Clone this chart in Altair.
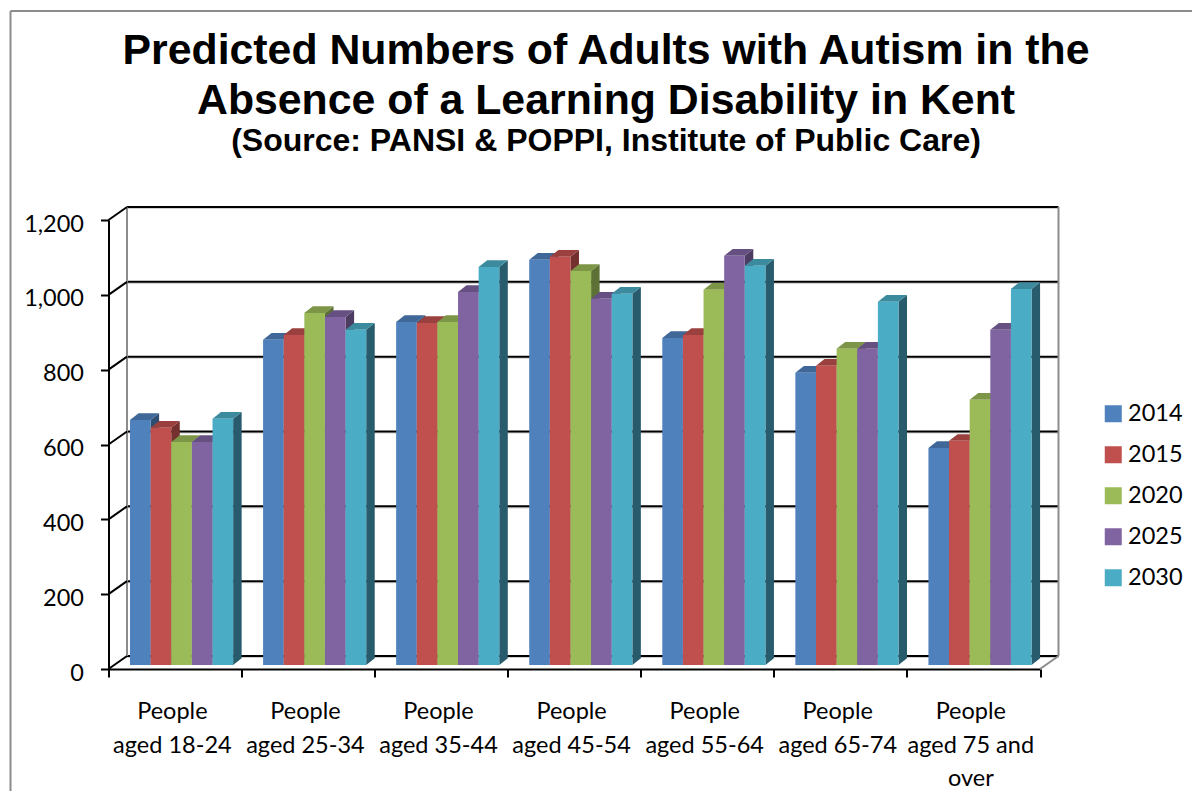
import altair as alt
import pandas as pd

ages = [["People", "aged 18-24"], ["People", "aged 25-34"], ["People", "aged 35-44"],
        ["People", "aged 45-54"], ["People", "aged 55-64"], ["People", "aged 65-74"],
        ["People", "aged 75 and", "over"]]
years = ["2014", "2015", "2020", "2025", "2030"]
v2014 = [655, 869, 917, 1083, 874, 781, 580]
v2015 = [634, 882, 914, 1091, 882, 800, 599]
v2020 = [596, 941, 917, 1053, 1003, 845, 709]
v2025 = [596, 930, 997, 979, 1094, 845, 896]
v2030 = [658, 896, 1064, 992, 1067, 971, 1005]
series = [v2014, v2015, v2020, v2025, v2030]
front_col = ["#4F81BD", "#C0504D", "#9BBB59", "#8064A2", "#4BACC6"]
top_col = ["#3F6797", "#9A403E", "#7C9547", "#665082", "#3C8A9E"]
side_col = ["#2F4D71", "#73302E", "#5D7035", "#4D3C61", "#285C6D"]
ticks = [0, 200, 400, 600, 800, 1000, 1200]
title_lines = ["Predicted Numbers of Adults with Autism in the",
               "Absence of a Learning Disability in Kent"]
subtitle = "(Source: PANSI & POPPI, Institute of Public Care)"

# 3-D projection, in data units
WALL_X, WALL_Y = 0.139, 34.7      # depth of the chart box
BAR_DX, BAR_DY = 0.064, 18.0      # depth of a bar
BASE = 10.7                       # bars stand a little behind the front edge
START, BW = 0.1616, 0.155         # first bar inset, bar width

GRAY = "#8c8c8c"
FONT = "Lato"
TITLE_FONT = "Liberation Sans"
sx = alt.Scale(domain=[0, 7], nice=False, zero=False)
sy = alt.Scale(domain=[0, 1200], nice=False, zero=False)
x_axis = alt.Axis(values=list(range(8)), labels=False, grid=False, domainColor="black",
                  domainWidth=2, tickColor="black", tickWidth=2, tickSize=8, title=None)
y_axis = alt.Axis(values=ticks, format=",.0f", grid=False, domainColor="black", domainWidth=2,
                  tickColor="black", tickWidth=2, tickSize=8, labelFont=FONT,
                  labelFontSize=23.5, labelColor="black", labelPadding=17, labelOffset=4, title=None)
X = lambda f="x": alt.X(f"{f}:Q", scale=sx, axis=x_axis)
Y = lambda f="y": alt.Y(f"{f}:Q", scale=sy, axis=y_axis)

layers = []

# back wall: grid lines, shadows, wall edges
grid_df = pd.DataFrame({"t": ticks})
grid_df["y"] = grid_df.t + WALL_Y
grid_df["ys"] = grid_df.y - 3.5
grid_df["x"] = WALL_X
grid_df["x2"] = 7 + WALL_X
layers.append(alt.Chart(grid_df).mark_rule(color="#d0d0d0", strokeWidth=1.5).encode(
    x=X(), x2="x2:Q", y=Y("ys")))
layers.append(alt.Chart(grid_df).mark_rule(color="black", strokeWidth=2).encode(
    x=X(), x2="x2:Q", y=Y()))
wall_df = pd.DataFrame({"x": [WALL_X, 7 + WALL_X], "y": [WALL_Y] * 2, "y2": [1200 + WALL_Y] * 2})
layers.append(alt.Chart(wall_df).mark_rule(color=GRAY, strokeWidth=2).encode(
    x=X(), y=Y(), y2="y2:Q"))

# diagonals from front ticks to the wall
diag = []
for t in ticks:
    diag += [{"k": t, "x": 0, "y": t}, {"k": t, "x": WALL_X, "y": t + WALL_Y}]
layers.append(alt.Chart(pd.DataFrame(diag)).mark_line(color="black", strokeWidth=2).encode(
    x=X(), y=Y(), detail="k:N"))
corner = pd.DataFrame({"x": [7, 7 + WALL_X], "y": [0, WALL_Y]})
layers.append(alt.Chart(corner).mark_line(color=GRAY, strokeWidth=2).encode(x=X(), y=Y()))

# bars, back to front, series by series
color_scale = alt.Scale(domain=years, range=front_col)
for s, vals in enumerate(series):
    front, side, top = [], [], []
    for g, v in enumerate(vals):
        x0 = g + START + s * BW
        x1 = x0 + BW
        y1 = v + BASE
        front.append({"x": x0, "x2": x1, "y": y1, "y2": BASE, "year": years[s]})
        side += [{"k": g, "x": x1, "y": y1, "y2": BASE},
                 {"k": g, "x": x1 + BAR_DX, "y": y1 + BAR_DY, "y2": BASE + BAR_DY}]
        top += [{"k": g, "x": x0, "x2": x1, "y": y1},
                {"k": g, "x": x0 + BAR_DX, "x2": x1 + BAR_DX, "y": y1 + BAR_DY}]
    layers.append(alt.Chart(pd.DataFrame(side)).mark_area(color=side_col[s], opacity=1).encode(
        x=X(), y=Y(), y2="y2:Q", detail="k:N"))
    layers.append(alt.Chart(pd.DataFrame(top)).mark_area(color=top_col[s], opacity=1, orient="horizontal").encode(
        x=X(), x2="x2:Q", y=Y(), detail="k:N"))
    layers.append(alt.Chart(pd.DataFrame(front)).mark_bar(opacity=1).encode(
        x=X(), x2="x2:Q", y=Y(), y2="y2:Q",
        color=alt.Color("year:N", scale=color_scale, title=None,
                        legend=alt.Legend(orient="none", legendX=993, legendY=182, symbolType="square",
                                          symbolSize=289, symbolStrokeWidth=0, labelFont=FONT,
                                          labelFontSize=23.5, labelColor="black", rowPadding=16,
                                          labelOffset=3, padding=0))))

# category labels
lab_df = pd.DataFrame({"x": [i + 0.48 for i in range(7)], "y": [0] * 7, "label": ages})
layers.append(alt.Chart(lab_df).mark_text(font=FONT, fontSize=23.5, color="black", baseline="top",
                                          align="center", lineHeight=33.5, dy=31).encode(
    x=X(), y=Y(), text="label"))

# chart-area border
one = pd.DataFrame({"a": [0]})
layers.append(alt.Chart(one).mark_rule(color=GRAY, strokeWidth=2).encode(
    x=alt.value(-98), y=alt.value(-209), y2=alt.value(571)))
layers.append(alt.Chart(one).mark_rule(color=GRAY, strokeWidth=2).encode(
    x=alt.value(-98), x2=alt.value(1100), y=alt.value(-209)))

# title block
layers.append(alt.Chart(pd.DataFrame({"t": [title_lines[0]]})).mark_text(
    font=TITLE_FONT, fontSize=42.8, fontWeight="bold", color="black", align="center", baseline="alphabetic").encode(
    x=alt.value(497.5), y=alt.value(-156), text="t:N"))
layers.append(alt.Chart(pd.DataFrame({"t": [title_lines[1]]})).mark_text(
    font=TITLE_FONT, fontSize=42.8, fontWeight="bold", color="black", align="center", baseline="alphabetic").encode(
    x=alt.value(497.5), y=alt.value(-106), text="t:N"))
layers.append(alt.Chart(pd.DataFrame({"t": [subtitle]})).mark_text(
    font=TITLE_FONT, fontSize=32, fontWeight="bold", color="black", align="center", baseline="alphabetic").encode(
    x=alt.value(497.5), y=alt.value(-69), text="t:N"))

chart = alt.layer(*layers).properties(
    width=931.5, height=449,
    autosize=alt.AutoSizeParams(type="none"),
    padding={"left": 100.5, "top": 212, "right": 152, "bottom": 122},
    background="white",
).configure_view(stroke=None)

chart.save("out.html", embed_options={"renderer": "svg", "actions": False})
